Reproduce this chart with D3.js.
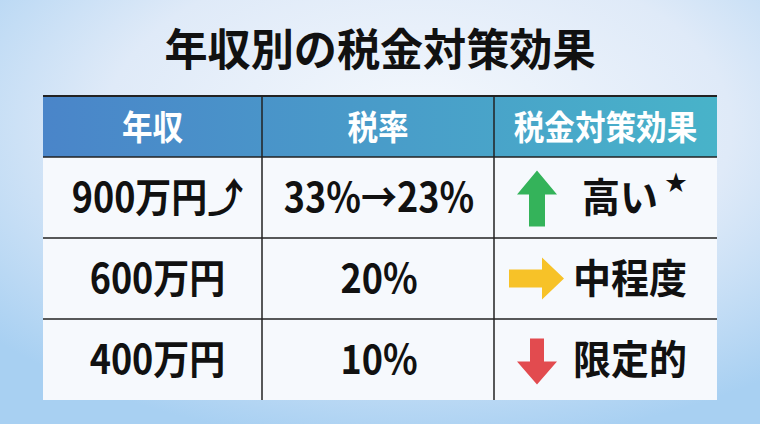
<!DOCTYPE html><html><head><meta charset="utf-8">
<script src="https://cdn.jsdelivr.net/npm/d3@7"></script>
<style>body{margin:0}svg{display:block}</style></head><body>
<svg id="c" width="760" height="424"></svg>
<script>
const title = "年収別の税金対策効果";
const headers = ["年収","税率","税金対策効果"];
const incomes = ["900万円⤴","600万円","400万円"];
const rates = ["33%→23%","20%","10%"];
const effects = ["高い","中程度","限定的"];
const effectDir = ["up","right","down"];

const svg = d3.select("#c");
const F = "'Noto Sans CJK JP','Noto Sans',sans-serif";
const defs = svg.append("defs");
const bg = defs.append("radialGradient").attr("id","bg").attr("cx","55%").attr("cy","30%").attr("r","75%");
bg.append("stop").attr("offset","0%").attr("stop-color","#f4f8fd");
bg.append("stop").attr("offset","55%").attr("stop-color","#dfeaf8");
bg.append("stop").attr("offset","100%").attr("stop-color","#a8d0f2");
const hg = defs.append("linearGradient").attr("id","hg");
hg.append("stop").attr("offset","0%").attr("stop-color","#4a85c9");
hg.append("stop").attr("offset","100%").attr("stop-color","#48b3c9");
svg.append("rect").attr("width",760).attr("height",424).attr("fill","url(#bg)");

function txt(xp,yp,s,size,anchor,fill,sx){
  sx = sx||0.9;
  return svg.append("text").attr("transform",`translate(${xp},${yp}) scale(${sx},1)`)
   .attr("text-anchor",anchor).attr("font-family",F).attr("font-weight",700)
   .attr("font-size",size).attr("fill",fill).text(s);
}
txt(380,66,title,44,"middle","#111",0.98);

const x = d3.scaleOrdinal().domain([0,1,2]).range([43,262,494]);
const colEnd = 717;
const colW = [219,232,223];
const yRow = d3.scaleBand().domain([0,1,2]).range([157,400]);
const tableTop = 96;

svg.append("rect").attr("x",43).attr("y",tableTop).attr("width",colEnd-43).attr("height",157-tableTop).attr("fill","url(#hg)");
svg.append("rect").attr("x",43).attr("y",157).attr("width",colEnd-43).attr("height",243).attr("fill","#f6f9fd");

headers.forEach((h,i)=>txt(x(i)+colW[i]/2,140,h,34,"middle","#fff",0.9));
svg.append("line").attr("x1",43).attr("x2",colEnd).attr("y1",tableTop).attr("y2",tableTop).attr("stroke","#222").attr("stroke-width",2);
[0,1,2].forEach(r=>{
  const y=yRow(r);
  svg.append("line").attr("x1",43).attr("x2",colEnd).attr("y1",y).attr("y2",y).attr("stroke","#222").attr("stroke-width",1.6);
});
[1,2].forEach(i=>svg.append("line").attr("x1",x(i)).attr("x2",x(i)).attr("y1",tableTop).attr("y2",400).attr("stroke","#222").attr("stroke-width",1.5));

const bw = yRow.bandwidth();
incomes.forEach((t,r)=>{
  const cy=yRow(r)+bw/2+14;
  txt(x(0)+colW[0]/2+5,cy,t,40,"middle","#111",0.9);
  txt(x(1)+colW[1]/2+1,cy,rates[r],40,"middle","#111",0.9);
  txt(r===0?582:573,cy,effects[r],40,"start","#111",0.95);
  const cx=537, ay=yRow(r)+bw/2;
  const g=svg.append("g").attr("transform",`translate(${cx},${ay})`);
  const up="M0,-27 L20,-3 L8,-3 L8,29 L-8,29 L-8,-3 L-20,-3 Z";
  const right="M-28,-9 L5,-9 L5,-21 L27,0 L5,21 L5,9 L-28,9 Z";
  const down="M-7,-21 L7,-21 L7,2 L20,2 L0,25 L-20,2 L-7,2 Z";
  const d=effectDir[r];
  g.append("path").attr("d",d==="up"?up:d==="right"?right:down)
   .attr("fill",d==="up"?"#34b35a":d==="right"?"#f7c228":"#e24b4f");
});
svg.append("text").attr("x",665).attr("y",190).attr("font-family",F).attr("font-size",22).attr("fill","#111").text("★");
</script></body></html>
